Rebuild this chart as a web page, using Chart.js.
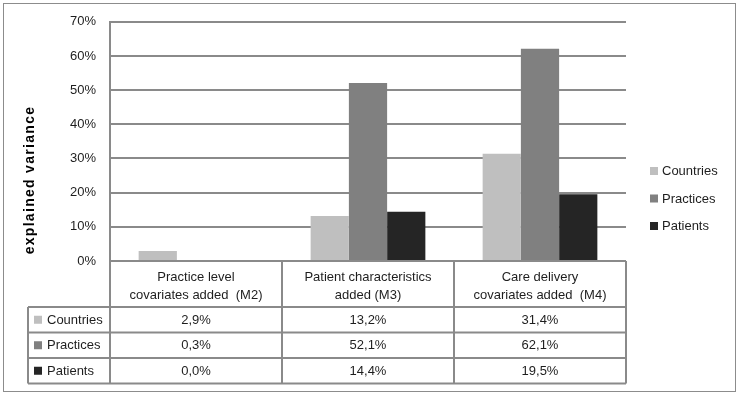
<!DOCTYPE html>
<html>
<head>
<meta charset="utf-8">
<script src="https://cdn.jsdelivr.net/npm/chart.js@4/dist/chart.umd.min.js"></script>
<style>
  html, body { margin: 0; padding: 0; background: #fff; }
  #chart { display: block; }
</style>
</head>
<body>
<canvas id="chart" width="740" height="396"></canvas>
<script>
// values in percent
const categories = [
  ["Practice level", "covariates added  (M2)"],
  ["Patient characteristics", "added (M3)"],
  ["Care delivery", "covariates added  (M4)"],
];
const seriesNames = ["Countries", "Practices", "Patients"];
const countries = [2.9, 13.2, 31.4];
const practices = [0.3, 52.1, 62.1];
const patients = [0.0, 14.4, 19.5];
const tableText = [
  ["2,9%", "13,2%", "31,4%"],
  ["0,3%", "52,1%", "62,1%"],
  ["0,0%", "14,4%", "19,5%"],
];
const yTicks = [0, 10, 20, 30, 40, 50, 60, 70];
const colors = ["#bfbfbf", "#808080", "#252525"];

const FONT = "'Liberation Sans', Arial, sans-serif";
const lineColor = "#8a8a8a";
const textColor = "#1e1e1e";

const data = {
  labels: categories,
  datasets: [
    { label: seriesNames[0], data: countries, backgroundColor: colors[0] },
    { label: seriesNames[1], data: practices, backgroundColor: colors[1] },
    { label: seriesNames[2], data: patients, backgroundColor: colors[2] },
  ],
};

const extras = {
  id: "extras",
  beforeDraw(chart) {
    const ctx = chart.ctx;
    ctx.save();
    ctx.strokeStyle = "#8c8c8c";
    ctx.lineWidth = 1;
    ctx.strokeRect(3.5, 3.5, 732, 388);
    ctx.restore();
  },
  afterDraw(chart) {
    const ctx = chart.ctx;
    const area = chart.chartArea;
    const colW = (area.right - area.left) / categories.length;
    const top = area.bottom;
    const headH = 46;
    const rowH = 25.5;
    const leftX = 28;
    const bottom = top + headH + rowH * seriesNames.length;

    ctx.save();
    ctx.strokeStyle = lineColor;
    ctx.lineWidth = 2;
    ctx.beginPath();
    // header top line
    ctx.moveTo(area.left, top);
    ctx.lineTo(area.right, top);
    // row lines
    for (let r = 0; r <= seriesNames.length; r++) {
      const y = top + headH + r * rowH;
      ctx.moveTo(leftX, y);
      ctx.lineTo(area.right, y);
    }
    // column lines
    for (let c = 0; c <= categories.length; c++) {
      const x = area.left + c * colW;
      ctx.moveTo(x, top);
      ctx.lineTo(x, bottom);
    }
    ctx.moveTo(leftX, top + headH);
    ctx.lineTo(leftX, bottom);
    ctx.stroke();

    ctx.fillStyle = textColor;
    ctx.font = "13px " + FONT;
    ctx.textAlign = "center";
    ctx.textBaseline = "middle";
    categories.forEach((lines, i) => {
      const cx = chart.scales.x.getPixelForValue(i);
      ctx.fillText(lines[0], cx, top + 16);
      ctx.fillText(lines[1], cx, top + 34);
      tableText.forEach((row, r) => {
        ctx.fillText(row[i], cx, top + headH + r * rowH + rowH / 2 + 0.5);
      });
    });

    // row headers
    ctx.textAlign = "left";
    seriesNames.forEach((name, r) => {
      const cy = top + headH + r * rowH + rowH / 2;
      ctx.fillStyle = colors[r];
      ctx.fillRect(34, cy - 4, 8, 8);
      ctx.fillStyle = textColor;
      ctx.fillText(name, 47, cy + 0.5);
    });

    // legend
    seriesNames.forEach((name, r) => {
      const cy = 171 + r * 27.5;
      ctx.fillStyle = colors[r];
      ctx.fillRect(650, cy - 4, 8, 8);
      ctx.fillStyle = textColor;
      ctx.fillText(name, 662, cy + 0.5);
    });

    // y axis title
    ctx.translate(30, 180);
    ctx.rotate(-Math.PI / 2);
    ctx.textAlign = "center";
    ctx.font = "bold 14px " + FONT;
    ctx.letterSpacing = "1.3px";
    ctx.fillStyle = "#000";
    ctx.fillText("explained variance", 0, 0);
    ctx.restore();
  },
};

const config = {
  type: "bar",
  data: data,
  options: {
    responsive: false,
    animation: false,
    layout: {
      padding: { top: 19, right: 114, bottom: 135, left: 0 },
    },
    datasets: {
      bar: {
        categoryPercentage: 0.667,
        barPercentage: 1.0,
        borderWidth: 0,
      },
    },
    scales: {
      x: {
        display: false,
      },
      y: {
        min: 0,
        max: 70,
        afterFit(scale) {
          scale.width = 110;
        },
        afterBuildTicks(scale) {
          scale.ticks = yTicks.map((v) => ({ value: v }));
        },
        grid: {
          color: lineColor,
          lineWidth: 2,
          drawTicks: false,
        },
        border: {
          display: true,
          color: lineColor,
          width: 2,
        },
        ticks: {
          color: textColor,
          padding: 14,
          font: { family: FONT, size: 13 },
          callback: (v) => v + "%",
        },
      },
    },
    plugins: {
      legend: { display: false },
      tooltip: { enabled: false },
    },
  },
  plugins: [extras],
};

const chart = new Chart(document.getElementById("chart"), config);
</script>
</body>
</html>
